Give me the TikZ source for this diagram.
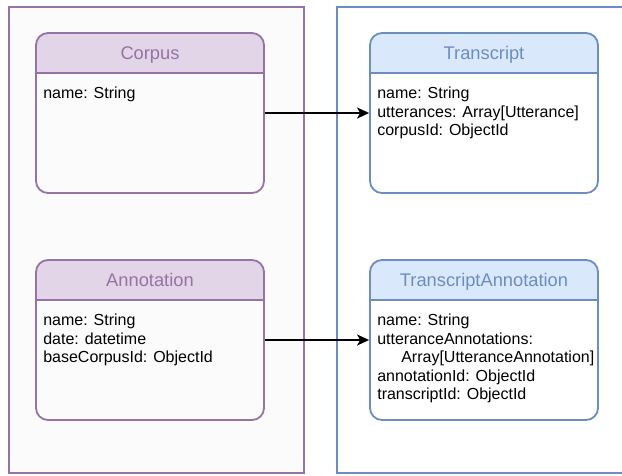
\documentclass[tikz,border=0pt]{standalone}
\usepackage{fontspec}
\setmainfont{Liberation Sans}
\usetikzlibrary{arrows.meta}

\definecolor{purpleline}{HTML}{9673A6}
\definecolor{purplehead}{HTML}{E1D5E7}
\definecolor{blueline}{HTML}{6C8EBF}
\definecolor{bluehead}{HTML}{DAE8FC}
\definecolor{paper}{HTML}{FCFBFC}

\def \boxw {228}
\def \boxh {160}
\def \headh {40}

\tikzset{
  container/.style={draw=#1, line width=1.8pt},
  classbox/.style n args={2}{draw=#1, line width=1.8pt, rounded corners=12pt,
    minimum width=\boxw pt, minimum height=\boxh pt, inner sep=0pt,
    path picture={
      \fill[#2, sharp corners] (path picture bounding box.north west) rectangle ([yshift=-\headh pt]path picture bounding box.north east);
      \draw[#1, line width=1.8pt] ([yshift=-\headh pt]path picture bounding box.north west) -- ([yshift=-\headh pt]path picture bounding box.north east);
    }},
  classname/.style={text=#1, anchor=base, inner sep=0pt, font=\fontsize{18.3}{22}\selectfont},
  fields/.style={anchor=north west, align=left, inner sep=0pt, font=\fontsize{16}{18.5}\selectfont},
  link/.style={-{Stealth[length=12pt, width=11pt, inset=3pt]}, line width=1.9pt},
}

\begin{document}
\begin{tikzpicture}[x=1pt, y=-1pt]
\useasboundingbox (0,0) rectangle (622,475);

% left and right groups
\draw[container=purpleline, fill=paper] (9,7) rectangle (304,473);
\draw[container=blueline, fill=white] (337,7) rectangle (645,473);

% corpus side
\node[classbox={purpleline}{purplehead}] (corpus) at (150,113) {};
\node[classname=purpleline] (corpus-name) at ([yshift=-27.5pt]corpus.north) {Corpus};
\node[fields] (corpus-fields) at ([xshift=8pt, yshift=-55pt]corpus.north west) {name: String};

\node[classbox={purpleline}{purplehead}] (annot) at (150,340) {};
\node[classname=purpleline] (annot-name) at ([yshift=-27.5pt]annot.north) {Annotation};
\node[fields] (annot-fields) at ([xshift=8pt, yshift=-55pt]annot.north west)
  {name: String\\date: datetime\\baseCorpusId: ObjectId};

% transcript side
\node[classbox={blueline}{bluehead}] (trans) at (484,113) {};
\node[classname=blueline] (trans-name) at ([yshift=-27.5pt]trans.north) {Transcript};
\node[fields] (trans-fields) at ([xshift=8pt, yshift=-55pt]trans.north west)
  {name: String\\utterances: Array[Utterance]\\corpusId: ObjectId};

\node[classbox={blueline}{bluehead}] (tannot) at (484,340) {};
\node[classname=blueline] (tannot-name) at ([yshift=-27.5pt]tannot.north) {TranscriptAnnotation};
\node[fields] (tannot-fields) at ([xshift=8pt, yshift=-55pt]tannot.north west)
  {name: String\\utteranceAnnotations:\\\hspace*{24pt}Array[UtteranceAnnotation]\\annotationId: ObjectId\\transcriptId: ObjectId};

% links
\draw[link] (corpus.east) -- (trans.west);
\draw[link] (annot.east) -- (tannot.west);
\end{tikzpicture}
\end{document}
